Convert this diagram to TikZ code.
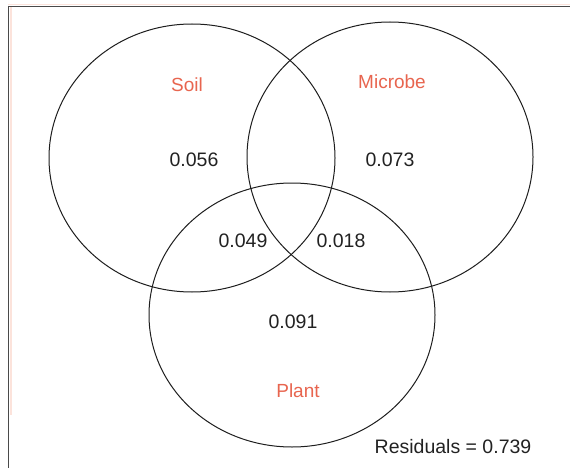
\documentclass[tikz,border=0pt]{standalone}
\usepackage{fontspec}
\setmainfont{Liberation Sans}
\definecolor{lab}{HTML}{E8654F}
\definecolor{num}{HTML}{222222}
\definecolor{edge}{HTML}{1E1E1E}
\definecolor{frame}{HTML}{4A4A4A}
\definecolor{pinkline}{HTML}{FCE3DB}
\begin{document}
\begin{tikzpicture}[x=1pt,y=-1pt,
  setlabel/.style={text=lab,font=\fontsize{19}{22}\selectfont,inner sep=0pt},
  value/.style={text=num,font=\fontsize{19.5}{22}\selectfont,inner sep=0pt},
  setcircle/.style={draw=edge,line width=1pt}]
\useasboundingbox (0,0) rectangle (570,468);
\fill[white] (0,0) rectangle (570,468);
% frame
\draw[pinkline,line width=1.2pt] (8,4.5) -- (570,4.5);
\draw[pinkline,line width=1.2pt] (11,6) -- (11,415);
\draw[frame,line width=1.4pt] (8.5,6.5) -- (570,6.5);
\draw[frame,line width=1.4pt] (8.5,6) -- (8.5,468);
% sets
\draw[setcircle] (192,158) ellipse [x radius=143pt, y radius=134pt];
\draw[setcircle] (390,157) ellipse [x radius=143pt, y radius=135pt];
\draw[setcircle] (292,315) ellipse [x radius=143pt, y radius=132pt];
% labels
\node[setlabel] (soil) at (187,85) {Soil};
\node[setlabel] (microbe) at (392,82) {Microbe};
\node[setlabel] (plant) at (298,391) {Plant};
% values
\node[value] (a) at (194,160) {0.056};
\node[value] (b) at (390,160) {0.073};
\node[value] (ab) at (243,241) {0.049};
\node[value] (bc) at (341,241) {0.018};
\node[value] (c) at (293,322) {0.091};
\node[value] (res) at (453,447) {Residuals = 0.739};
\end{tikzpicture}
\end{document}
